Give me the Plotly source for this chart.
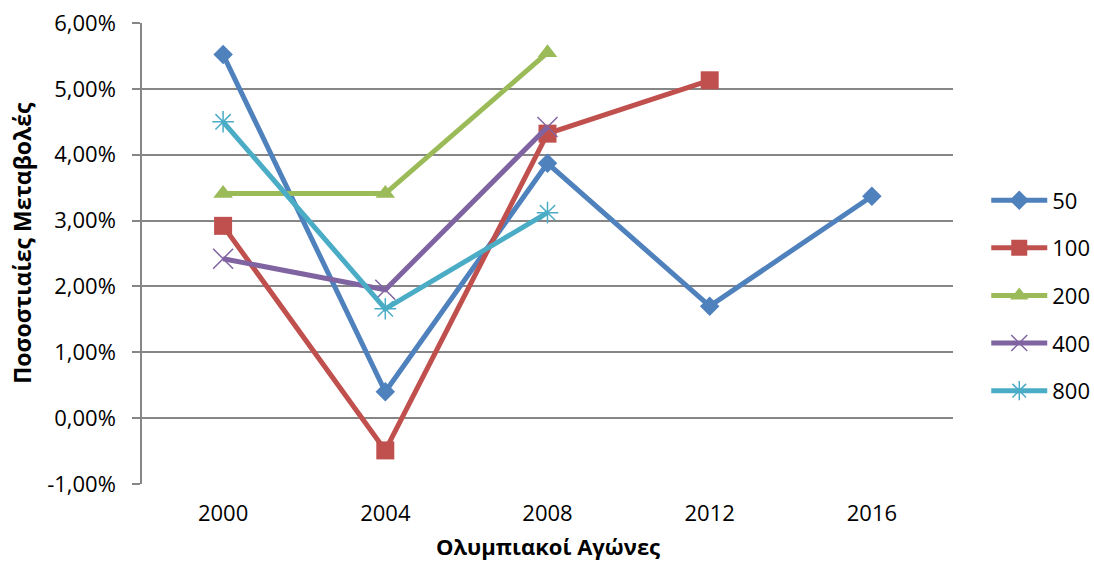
import plotly.graph_objects as go

# Olympic games (categories) and percentage changes per distance
years = ["2000", "2004", "2008", "2012", "2016"]
series_names = ["50", "100", "200", "400", "800"]
s50 = [5.52, 0.40, 3.87, 1.70, 3.37]
s100 = [2.92, -0.49, 4.32, 5.13, None]
s200 = [3.41, 3.41, 5.55, None, None]
s400 = [2.42, 1.95, 4.42, None, None]
s800 = [4.50, 1.66, 3.12, None, None]

y_ticks = [-1, 0, 1, 2, 3, 4, 5, 6]
y_tick_text = ["-1,00%", "0,00%", "1,00%", "2,00%", "3,00%", "4,00%", "5,00%", "6,00%"]

colors = ["#4F81BD", "#C0504D", "#9BBB59", "#8064A2", "#4BACC6"]
symbols = ["diamond", "square", "triangle-up", "x-thin", "asterisk-open"]
sizes = [15, 18, 17, 20, 18]

FONT = "Open Sans, Noto Sans, DejaVu Sans, sans-serif"
GRID = "#868686"

fig = go.Figure()
for i, (name, vals) in enumerate(zip(series_names, [s50, s100, s200, s400, s800])):
    thin = symbols[i] in ("x-thin", "asterisk-open")
    fig.add_trace(go.Scatter(
        x=years, y=vals, name=name, mode="lines+markers",
        legendgroup=name,
        line=dict(color=colors[i], width=5),
        marker=dict(symbol=symbols[i], size=sizes[i], color=colors[i],
                    line=dict(color=colors[i], width=1.5 if thin else 0)),
    ))

n = len(years)
fig.update_layout(
    template="none",
    width=1094, height=563,
    margin=dict(l=142, r=141, t=23, b=79, autoexpand=False),
    paper_bgcolor="white", plot_bgcolor="white",
    font=dict(family=FONT, size=22, color="#000000"),
    showlegend=True,
    legend=dict(x=1.041, xanchor="left", y=0.409, yanchor="middle",
                font=dict(size=22), tracegroupgap=16, traceorder="grouped",
                itemwidth=56, bgcolor="rgba(0,0,0,0)", borderwidth=0),
    xaxis=dict(type="category", categoryorder="array", categoryarray=years,
               range=[-0.5, n - 0.5], showgrid=False, zeroline=False,
               showline=False, ticks="", ticklabelstandoff=14,
               automargin=False, tickfont=dict(size=22)),
    xaxis2=dict(overlaying="x", anchor="free",
                position=(0 - y_ticks[0]) / (y_ticks[-1] - y_ticks[0]),
                range=[-0.5, n - 0.5],
                tickvals=[k - 0.5 for k in range(n + 1)],
                ticks="outside", ticklen=8, tickwidth=1.5, tickcolor=GRID,
                showticklabels=False, showgrid=False, zeroline=False,
                showline=False, automargin=False),
    yaxis=dict(range=[y_ticks[0], y_ticks[-1]], tickvals=y_ticks,
               ticktext=y_tick_text, showgrid=True, gridcolor=GRID,
               gridwidth=1.5, zeroline=False, showline=True, linecolor=GRID,
               linewidth=1.5, ticks="outside", ticklen=8, tickwidth=1.5,
               tickcolor=GRID, ticklabelstandoff=12, automargin=False,
               tickfont=dict(size=22)),
    annotations=[
        dict(text="<b>Ποσοστιαίες Μεταβολές</b>", textangle=-90,
             xref="paper", yref="paper", x=-0.148, y=0.523,
             xanchor="center", yanchor="middle", showarrow=False,
             font=dict(size=23)),
        dict(text="<b>Ολυμπιακοί Αγώνες</b>",
             xref="paper", yref="paper", x=0.5, y=-0.17,
             xanchor="center", yanchor="bottom", showarrow=False,
             borderpad=0, font=dict(size=22)),
    ],
)

fig.write_html("out.html")
